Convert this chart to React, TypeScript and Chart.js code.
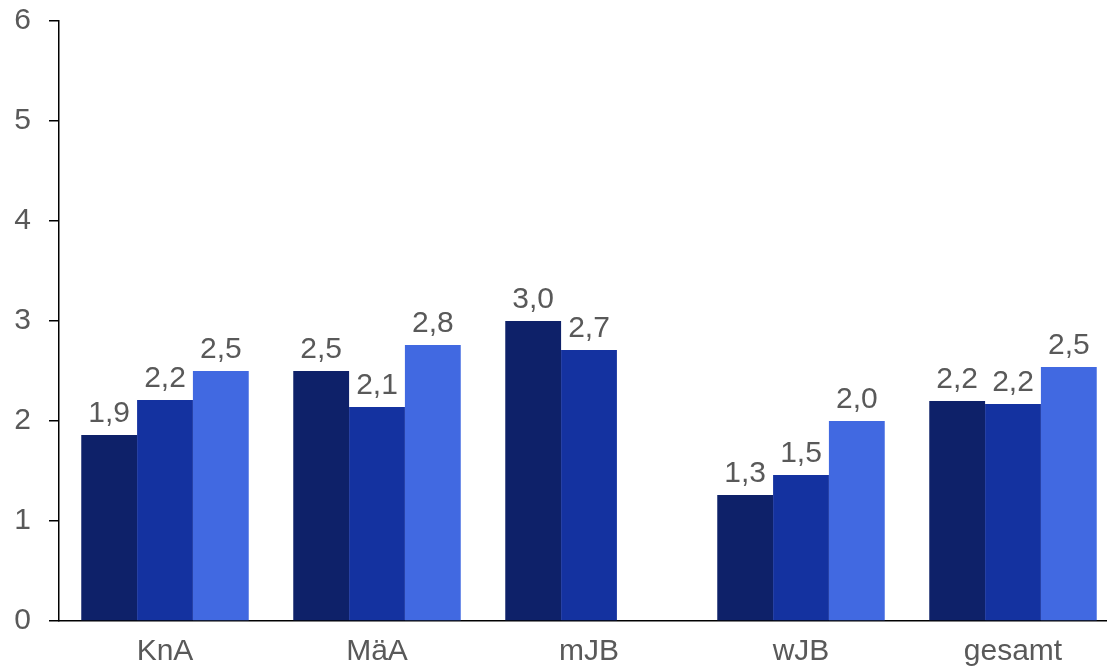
import React, { useEffect, useRef } from "react";
import { Chart, registerables } from "chart.js";

Chart.register(...registerables);

const categories = ["KnA", "MäA", "mJB", "wJB", "gesamt"];
const series1 = [1.86, 2.5, 3.0, 1.26, 2.2];
const series2 = [2.21, 2.14, 2.71, 1.46, 2.17];
const series3: (number | null)[] = [2.5, 2.76, null, 2.0, 2.54];
const yTicks = [0, 1, 2, 3, 4, 5, 6];

const colors = ["#0E2169", "#1432A0", "#4169E1"];
const FONT = "'Liberation Sans', Arial, sans-serif";
const TEXT = "#595959";

const labelPlugin = {
  id: "valueLabels",
  afterDatasetsDraw(chart: any) {
    const ctx = chart.ctx;
    ctx.save();
    ctx.font = `30px ${FONT}`;
    ctx.fillStyle = TEXT;
    ctx.textAlign = "center";
    ctx.textBaseline = "alphabetic";
    chart.data.datasets.forEach((ds: any, i: number) => {
      const meta = chart.getDatasetMeta(i);
      meta.data.forEach((bar: any, j: number) => {
        const v = ds.data[j];
        if (v === null || v === undefined) return;
        const txt = v.toFixed(1).replace(".", ",");
        ctx.fillText(txt, bar.x, bar.y - 13);
      });
    });
    ctx.restore();
  },
};

export default function App() {
  const ref = useRef<HTMLCanvasElement>(null);
  useEffect(() => {
    document.body.style.margin = "0";
    document.body.style.overflow = "hidden";
    const chart = new Chart(ref.current!, {
      type: "bar",
      data: {
        labels: categories,
        datasets: [series1, series2, series3].map((d, i) => ({
          label: `S${i + 1}`,
          data: d,
          backgroundColor: colors[i],
          borderWidth: 0,
          categoryPercentage: 0.79,
          barPercentage: 1.0,
        })),
      },
      options: {
        responsive: false,
        animation: false,
        devicePixelRatio: 1,
        layout: { padding: { top: 21, left: 0, right: 0, bottom: 0 } },
        plugins: { legend: { display: false }, tooltip: { enabled: false } },
        scales: {
          x: {
            grid: { display: false, drawTicks: false },
            border: { display: true, color: "#000", width: 1.5 },
            ticks: { color: TEXT, font: { family: FONT, size: 30 }, padding: 13 },
            afterFit: (s: any) => {
              s.height = 48;
              s.paddingTop = 0;
              s.paddingBottom = 0;
            },
          },
          y: {
            min: 0,
            max: 6,
            afterBuildTicks: (s: any) => {
              s.ticks = yTicks.map((v) => ({ value: v }));
            },
            grid: {
              drawOnChartArea: false,
              drawTicks: true,
              tickLength: 10,
              color: "#000",
              lineWidth: 1.5,
            },
            border: { display: true, color: "#000", width: 1.5 },
            ticks: { color: TEXT, font: { family: FONT, size: 30 }, padding: 18 },
            afterFit: (s: any) => {
              s.width = 59;
              s.paddingTop = 0;
              s.paddingBottom = 0;
            },
          },
        },
      },
      plugins: [labelPlugin],
    });
    return () => chart.destroy();
  }, []);
  return (
    <div style={{ position: "absolute", left: 0, top: 0, width: 1119, height: 669 }}>
      <canvas ref={ref} width={1119} height={669} />
    </div>
  );
}
